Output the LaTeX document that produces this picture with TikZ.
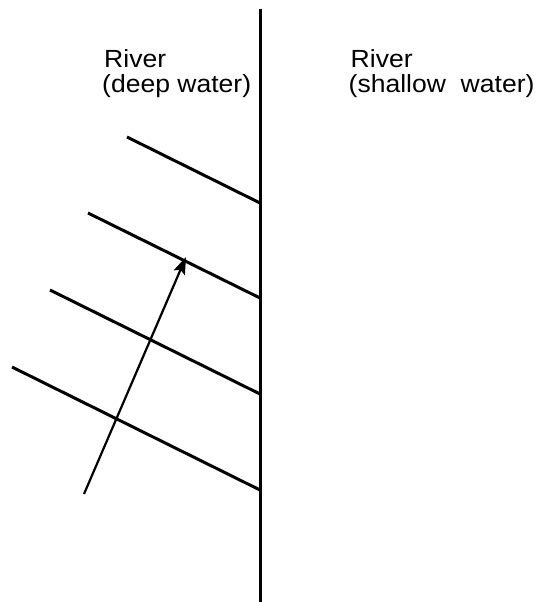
\documentclass[tikz,border=0pt]{standalone}
\usepackage{fontspec}
\setmainfont{Liberation Sans}
\usetikzlibrary{arrows.meta}
\newcommand{\wide}[1]{\scalebox{1.07}[1]{#1}}
\begin{document}
\begin{tikzpicture}[x=1pt,y=-1pt,
  wave/.style={line width=3pt},
  lbl/.style={anchor=base west,inner sep=0pt,font=\fontsize{24.8}{25}\selectfont}]
\useasboundingbox (0,0) rectangle (536,602);
\coordinate (top) at (260,9);
\coordinate (bot) at (260,602);
\draw[wave] (top) -- (bot);
\coordinate (a1) at (127,137); \coordinate (b1) at (260,203);
\coordinate (a2) at (88,213);  \coordinate (b2) at (260,298);
\coordinate (a3) at (50,290);  \coordinate (b3) at (260,394);
\coordinate (a4) at (12,367);  \coordinate (b4) at (260,490);
\draw[wave] (a1) -- (b1);
\draw[wave] (a2) -- (b2);
\draw[wave] (a3) -- (b3);
\draw[wave] (a4) -- (b4);
\coordinate (ra) at (84,494);
\coordinate (rb) at (186,257);
\draw[line width=2.2pt,-{Stealth[length=17pt,width=12pt,inset=3pt]}] (ra) -- (rb);
\node[lbl] (d1) at (104,67.7) {\wide{River}};
\node[lbl] (d2) at (102,92.7) {\wide{(deep water)}};
\node[lbl] (s1) at (350.5,67.7) {\wide{River}};
\node[lbl] (s2) at (348.5,92.7) {\wide{(shallow\ \ water)}};
\end{tikzpicture}
\end{document}
